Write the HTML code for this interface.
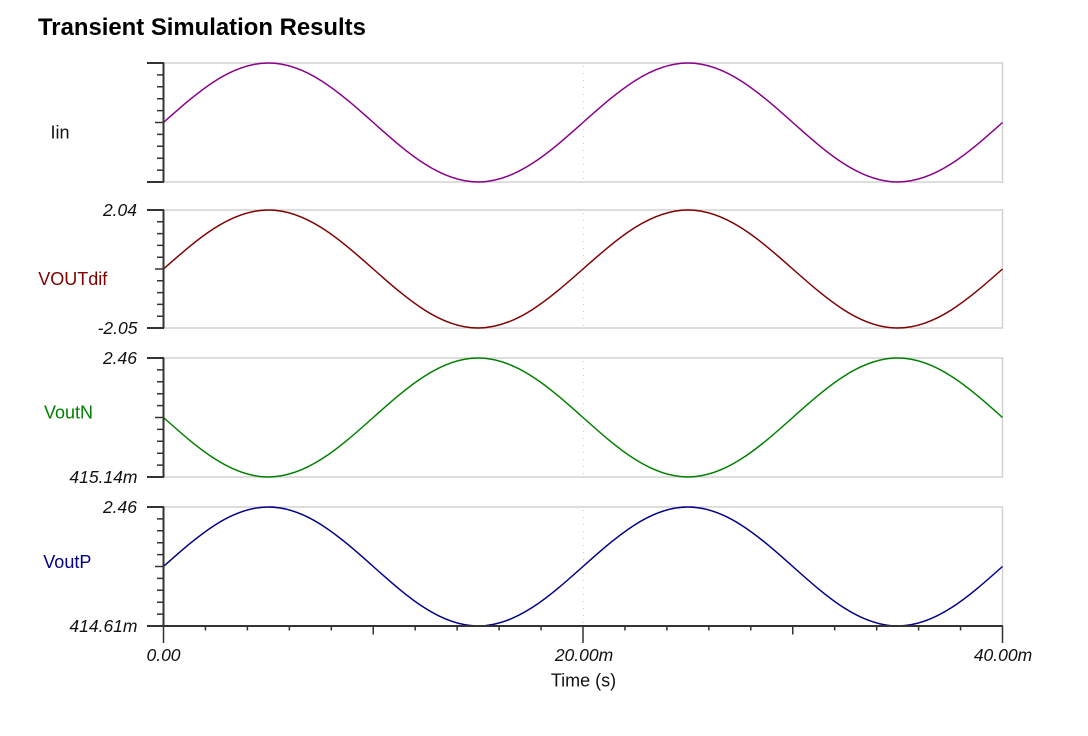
<!DOCTYPE html>
<html>
<head>
<meta charset="utf-8">
<style>
  html, body { margin:0; padding:0; background:#ffffff; }
  svg { display:block; }
  text { font-family: "Liberation Sans", Arial, sans-serif; }
</style>
</head>
<body>
<svg width="1088" height="736" viewBox="0 0 1088 736" xmlns="http://www.w3.org/2000/svg">
  <rect x="0" y="0" width="1088" height="736" fill="#ffffff"/>
  <text x="38" y="35" font-size="23.9" font-weight="bold" fill="#000">Transient Simulation Results</text>

  <g fill="none" stroke="#d2d2d2" stroke-width="1.5">
    <rect x="163.5" y="63" width="839" height="119"/>
    <rect x="163.5" y="210" width="839" height="118"/>
    <rect x="163.5" y="358" width="839" height="119"/>
    <rect x="163.5" y="507" width="839" height="119"/>
  </g>

  <g stroke="#c8c8c8" stroke-width="1" stroke-dasharray="1,6">
    <line x1="583.5" y1="66" x2="583.5" y2="182"/>
    <line x1="583.5" y1="213" x2="583.5" y2="328"/>
    <line x1="583.5" y1="361" x2="583.5" y2="477"/>
    <line x1="583.5" y1="510" x2="583.5" y2="626"/>
  </g>

  <g fill="none" stroke-width="1.5" stroke-linejoin="round">
    <path stroke="#880088" d="M163.5 122.5 c34.2 -30.48 66.92 -59.5 104.875 -59.5 c37.96 0 70.68 29.02 104.875 59.5 c34.2 30.48 66.92 59.5 104.875 59.5 c37.96 0 70.68 -29.02 104.875 -59.5 c34.2 -30.48 66.92 -59.5 104.875 -59.5 c37.96 0 70.68 29.02 104.875 59.5 c34.2 30.48 66.92 59.5 104.875 59.5 c37.96 0 70.68 -29.02 104.875 -59.5"/>
    <path stroke="#800000" d="M163.5 269 c34.2 -30.23 66.92 -59 104.875 -59 c37.96 0 70.68 28.77 104.875 59 c34.2 30.23 66.92 59 104.875 59 c37.96 0 70.68 -28.77 104.875 -59 c34.2 -30.23 66.92 -59 104.875 -59 c37.96 0 70.68 28.77 104.875 59 c34.2 30.23 66.92 59 104.875 59 c37.96 0 70.68 -28.77 104.875 -59"/>
    <path stroke="#008000" d="M163.5 417.5 c34.2 30.48 66.92 59.5 104.875 59.5 c37.96 0 70.68 -29.02 104.875 -59.5 c34.2 -30.48 66.92 -59.5 104.875 -59.5 c37.96 0 70.68 29.02 104.875 59.5 c34.2 30.48 66.92 59.5 104.875 59.5 c37.96 0 70.68 -29.02 104.875 -59.5 c34.2 -30.48 66.92 -59.5 104.875 -59.5 c37.96 0 70.68 29.02 104.875 59.5"/>
    <path stroke="#000088" d="M163.5 566.5 c34.2 -30.48 66.92 -59.5 104.875 -59.5 c37.96 0 70.68 29.02 104.875 59.5 c34.2 30.48 66.92 59.5 104.875 59.5 c37.96 0 70.68 -29.02 104.875 -59.5 c34.2 -30.48 66.92 -59.5 104.875 -59.5 c37.96 0 70.68 29.02 104.875 59.5 c34.2 30.48 66.92 59.5 104.875 59.5 c37.96 0 70.68 -29.02 104.875 -59.5"/>
  </g>

  <g stroke="#333333" stroke-width="2" fill="none">
    <path d="M163.5 63 V182 M147 63 H164 M147 182 H164"/>
    <path d="M163.5 210 V328 M147 210 H164 M147 328 H164"/>
    <path d="M163.5 358 V477 M147 358 H164 M147 477 H164"/>
    <path d="M163.5 507 V626 M147 507 H164 M147 626 H1003"/>
  </g>

  <g stroke="#333333" stroke-width="1.5" fill="none">
    <path d="M157 74.9 H163.5 M157 86.8 H163.5 M157 98.7 H163.5 M157 110.6 H163.5 M155 122.5 H163.5 M157 134.4 H163.5 M157 146.3 H163.5 M157 158.2 H163.5 M157 170.1 H163.5"/>
    <path d="M157 221.8 H163.5 M157 233.6 H163.5 M157 245.4 H163.5 M157 257.2 H163.5 M155 269 H163.5 M157 280.8 H163.5 M157 292.6 H163.5 M157 304.4 H163.5 M157 316.2 H163.5"/>
    <path d="M157 369.9 H163.5 M157 381.8 H163.5 M157 393.7 H163.5 M157 405.6 H163.5 M155 417.5 H163.5 M157 429.4 H163.5 M157 441.3 H163.5 M157 453.2 H163.5 M157 465.1 H163.5"/>
    <path d="M157 518.9 H163.5 M157 530.8 H163.5 M157 542.7 H163.5 M157 554.6 H163.5 M155 566.5 H163.5 M157 578.4 H163.5 M157 590.3 H163.5 M157 602.2 H163.5 M157 614.1 H163.5"/>
    <path d="M163.5 626 V643 M205.45 626 V630.5 M247.4 626 V630.5 M289.35 626 V630.5 M331.3 626 V630.5 M373.25 626 V634.5 M415.2 626 V630.5 M457.15 626 V630.5 M499.1 626 V630.5 M541.05 626 V630.5 M583 626 V643 M624.95 626 V630.5 M666.9 626 V630.5 M708.85 626 V630.5 M750.8 626 V630.5 M792.75 626 V634.5 M834.7 626 V630.5 M876.65 626 V630.5 M918.6 626 V630.5 M960.55 626 V630.5 M1002.5 626 V643"/>
  </g>

  <g font-size="17.5" font-style="italic" fill="#111" text-anchor="end">
    <text x="137" y="216">2.04</text>
    <text x="137.5" y="334">-2.05</text>
    <text x="137" y="364">2.46</text>
    <text x="137.5" y="483">415.14m</text>
    <text x="137" y="513">2.46</text>
    <text x="137.5" y="632">414.61m</text>
  </g>

  <g font-size="17.5" font-style="italic" fill="#111" text-anchor="middle">
    <text x="163.5" y="661">0.00</text>
    <text x="584" y="661">20.00m</text>
    <text x="1003" y="661">40.00m</text>
  </g>
  <text x="583.5" y="686.5" font-size="18" fill="#111" text-anchor="middle">Time (s)</text>

  <g font-size="18">
    <text x="50.5" y="138.3" fill="#111">Iin</text>
    <text x="38.3" y="285" fill="#800000">VOUTdif</text>
    <text x="44" y="418.5" fill="#008000">VoutN</text>
    <text x="43.3" y="568" fill="#000088">VoutP</text>
  </g>
</svg>
</body>
</html>
